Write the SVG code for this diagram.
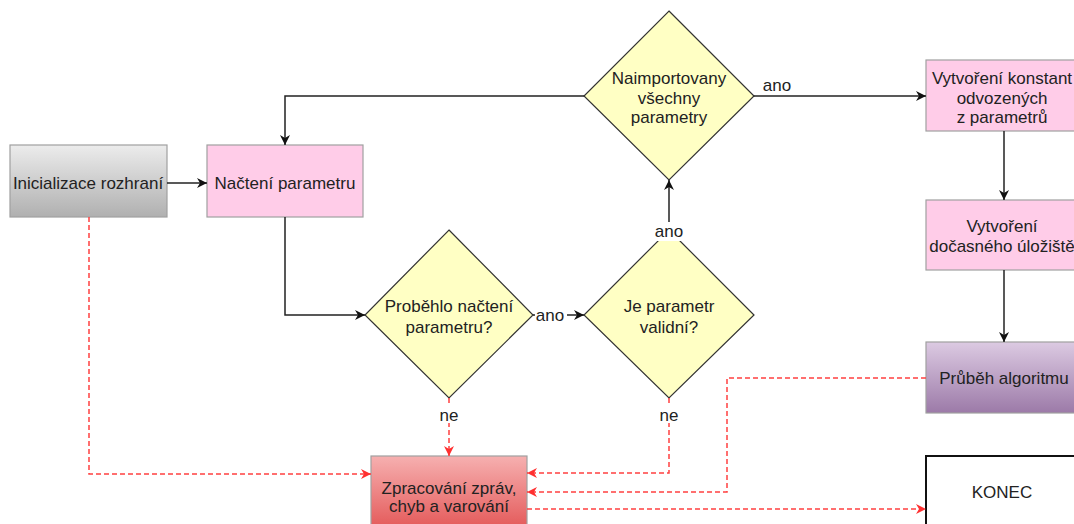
<svg xmlns="http://www.w3.org/2000/svg" width="1074" height="524" viewBox="0 0 1074 524">
<style>
text{font-family:"Liberation Sans",Arial,sans-serif;font-size:17px;fill:#222;text-anchor:middle}
.box{stroke:#a0a0a0;stroke-width:1.2}
.pink{fill:#ffcce8}
.dia{fill:#ffffc4;stroke:#333;stroke-width:1.2}
.flow{fill:none;stroke:#222;stroke-width:1.5}
.err{fill:none;stroke:#ff4040;stroke-width:1.5;stroke-dasharray:5,3}
.lbl{fill:#fff}
</style>
<defs>
<linearGradient id="gGray" x1="0" y1="0" x2="0" y2="1"><stop offset="0" stop-color="#ececec"/><stop offset="1" stop-color="#b0b0b0"/></linearGradient>
<linearGradient id="gPurple" x1="0" y1="0" x2="0" y2="1"><stop offset="0" stop-color="#dccae2"/><stop offset="1" stop-color="#9c7aa8"/></linearGradient>
<linearGradient id="gRed" x1="0" y1="0" x2="0" y2="1"><stop offset="0" stop-color="#f6b0b0"/><stop offset="1" stop-color="#e45a5a"/></linearGradient>
<marker id="ab" viewBox="0 0 10 10" refX="10" refY="5" markerWidth="10" markerHeight="10" markerUnits="userSpaceOnUse" orient="auto"><path d="M0,0 L10,5 L0,10 L3,5 z" fill="#111"/></marker>
<marker id="ar" viewBox="0 0 10 10" refX="10" refY="5" markerWidth="10" markerHeight="10" markerUnits="userSpaceOnUse" orient="auto"><path d="M0,0 L10,5 L0,10 L3,5 z" fill="#ff3030"/></marker>
</defs>
<rect width="1074" height="524" fill="#fff"/>

<g id="init"><rect class="box" x="10" y="145" width="157" height="72" fill="url(#gGray)"/><text x="88" y="189">Inicializace rozhraní</text></g>
<g id="nacteni"><rect class="box pink" x="207" y="145" width="156" height="72"/><text x="285" y="189">Načtení parametru</text></g>
<g id="naimport"><polygon class="dia" points="669,11 754,96 669,180 584,96"/><text x="669" y="84">Naimportovany</text><text x="669" y="104">všechny</text><text x="669" y="123">parametry</text></g>
<g id="probehlo"><polygon class="dia" points="449,230 533,315 449,398 365,315"/><text x="449" y="312">Proběhlo načtení</text><text x="449" y="333">parametru?</text></g>
<g id="validni"><polygon class="dia" points="669,230 754,315 669,398 584,315"/><text x="669" y="312">Je parametr</text><text x="669" y="333">validní?</text></g>
<g id="konstant"><rect class="box pink" x="926" y="60" width="157" height="71"/><text x="1002" y="84">Vytvoření konstant</text><text x="1002" y="104">odvozených</text><text x="1002" y="123">z parametrů</text></g>
<g id="uloziste"><rect class="box pink" x="926" y="200" width="157" height="70"/><text x="1002" y="232">Vytvoření</text><text x="1002" y="252">dočasného úložiště</text></g>
<g id="prubeh"><rect class="box" x="926" y="342" width="157" height="71" fill="url(#gPurple)"/><text x="1004" y="384">Průběh algoritmu</text></g>
<g id="zpracovani"><rect class="box" x="371" y="456" width="156" height="72" fill="url(#gRed)" stroke="#d06060"/><text x="449" y="494">Zpracování zpráv,</text><text x="449" y="512">chyb a varování</text></g>
<g id="konec"><rect x="926" y="456" width="160" height="80" fill="#fff" stroke="#111" stroke-width="2"/><text x="1002" y="498">KONEC</text></g>

<g id="connectors">
<path class="flow" d="M167,183 L207,183" marker-end="url(#ab)"/>
<path class="flow" d="M584,96 L285,96 L285,145" marker-end="url(#ab)"/>
<path class="flow" d="M285,217 L285,315 L365,315" marker-end="url(#ab)"/>
<path class="flow" d="M533,315 L584,315" marker-end="url(#ab)"/>
<path class="flow" d="M669,229 L669,180" marker-end="url(#ab)"/>
<path class="flow" d="M754,96 L926,96" marker-end="url(#ab)"/>
<path class="flow" d="M1004,131 L1004,200" marker-end="url(#ab)"/>
<path class="flow" d="M1004,270 L1004,342" marker-end="url(#ab)"/>
<path class="err" d="M89,217 L89,474 L371,474" marker-end="url(#ar)"/>
<path class="err" d="M449,398 L449,456" marker-end="url(#ar)"/>
<path class="err" d="M669,398 L669,473 L527,473" marker-end="url(#ar)"/>
<path class="err" d="M926,378 L727,378 L727,492 L527,492" marker-end="url(#ar)"/>
<path class="err" d="M527,509 L926,509" marker-end="url(#ar)"/>
<rect class="lbl" x="535" y="306" width="32" height="18"/>
<text x="550" y="321">ano</text>
<rect class="lbl" x="652" y="222" width="34" height="19"/>
<text x="669" y="237">ano</text>
<text x="777" y="91">ano</text>
<rect class="lbl" x="438" y="406" width="22" height="17"/>
<text x="449" y="421">ne</text>
<rect class="lbl" x="658" y="406" width="22" height="17"/>
<text x="669" y="421">ne</text>
</g>
</svg>
